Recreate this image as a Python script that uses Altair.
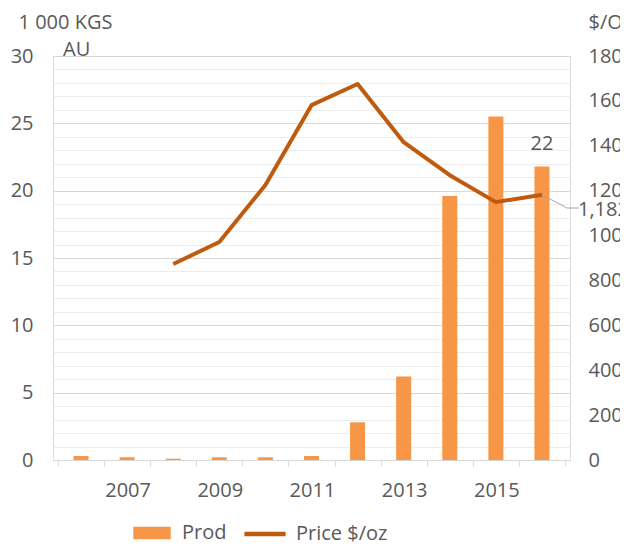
import altair as alt
import pandas as pd

years = [2006, 2007, 2008, 2009, 2010, 2011, 2012, 2013, 2014, 2015, 2016]
prod = [0.3, 0.2, 0.1, 0.2, 0.2, 0.3, 2.8, 6.2, 19.6, 25.5, 21.8]
price = [None, None, 873, 971, 1225, 1581, 1675, 1416, 1269, 1149, 1182]

left_ticks = list(range(0, 31))
right_ticks = list(range(0, 1801, 200))
boundaries = [y - 0.5 for y in years] + [years[-1] + 0.5]

df = pd.DataFrame({"year": years, "prod": prod, "price": price})
last = df[df["year"] == years[-1]]

BAR = "#F79646"
LINE = "#BF5B0E"
TXT = "#595959"
FONT = "Open Sans"
FS = 20

xscale = alt.Scale(domain=[years[0] - 0.5, years[-1] + 0.5], nice=False, zero=False)
xaxis = alt.Axis(
    values=boundaries,
    labelExpr="(datum.value < 2016 && (datum.value + 0.5) % 2 == 1) ? format(datum.value + 0.5, 'd') : ''",
    labelOffset=23.5, tickSize=6, tickColor="#d9d9d9", domainColor="#d9d9d9",
    grid=False, title=None, labelFontSize=FS, labelColor=TXT, labelFont=FONT,
    labelPadding=14, labelOverlap=False, labelFlush=False, labelBound=False,
)
X = alt.X("year:Q", scale=xscale, axis=xaxis)

lscale = alt.Scale(domain=[0, 30], nice=False)
laxis = alt.Axis(
    values=left_ticks,
    labelExpr="datum.value % 5 == 0 ? datum.label : ''",
    gridColor={"condition": {"test": "datum.value % 5 == 0", "value": "#d9d9d9"}, "value": "#ededed"},
    grid=True, ticks=False, domain=False, labelPadding=20,
    labelFontSize=FS, labelColor=TXT, labelFont=FONT,
    title="1 000 KGS", titleAngle=0, titleAlign="left", titleBaseline="middle",
    titleX=-35, titleY=-34, titleFontSize=FS, titleFontWeight="normal",
    titleColor=TXT, titleFont=FONT,
)
rscale = alt.Scale(domain=[0, 1800], nice=False)
raxis = alt.Axis(
    values=right_ticks, format="d", orient="right",
    grid=False, ticks=False, domain=False, labelPadding=18,
    labelFontSize=FS, labelColor=TXT, labelFont=FONT,
    title="$/OZ", titleAngle=0, titleAlign="left", titleBaseline="middle",
    titleX=18, titleY=-34, titleFontSize=FS, titleFontWeight="normal",
    titleColor=TXT, titleFont=FONT,
)

base = alt.Chart(df)

bars = base.mark_bar(size=15).transform_calculate(s1="'Prod'").encode(
    x=X,
    y=alt.Y("prod:Q", scale=lscale, axis=laxis),
    fill=alt.Fill(
        "s1:N",
        scale=alt.Scale(domain=["Prod"], range=[BAR]),
        legend=alt.Legend(
            title=None, orient="none", legendX=80, legendY=458, padding=0,
            symbolType="M-1,-0.34H1V0.34H-1Z", symbolSize=1400, symbolStrokeWidth=0,
            labelFontSize=FS, labelColor=TXT, labelFont=FONT, labelOffset=11,
        ),
    ),
)
bar_label = alt.Chart(last).mark_text(
    baseline="alphabetic", dy=-16, fontSize=FS, font=FONT, color=TXT
).encode(x=X, y=alt.Y("prod:Q", scale=lscale, axis=laxis), text=alt.Text("prod:Q", format=".0f"))

au = alt.Chart(pd.DataFrame({"t": ["AU"]})).mark_text(
    align="left", baseline="middle", fontSize=FS, font=FONT, color=TXT
).encode(x=alt.value(10), y=alt.value(-6), text="t:N")

left = alt.layer(bars, bar_label, au)

line = base.mark_line(strokeWidth=4, strokeJoin="round").transform_calculate(s2="'Price $/oz'").encode(
    x=X,
    y=alt.Y("price:Q", scale=rscale, axis=raxis),
    stroke=alt.Stroke(
        "s2:N",
        scale=alt.Scale(domain=["Price $/oz"], range=[LINE]),
        legend=alt.Legend(
            title=None, orient="none", legendX=189, legendY=455, padding=0,
            symbolType="stroke", symbolSize=1700, symbolStrokeWidth=4.5,
            labelFontSize=FS, labelColor=TXT, labelFont=FONT, labelOffset=8,
        ),
    ),
)
leader1 = alt.Chart(last).mark_rule(color="#a6a6a6", strokeWidth=1).encode(
    x=X, y=alt.Y("price:Q", scale=rscale, axis=raxis),
    x2=alt.value(514), y2=alt.value(152),
)
leader2 = alt.Chart(pd.DataFrame({"a": [1]})).mark_rule(color="#a6a6a6", strokeWidth=1).encode(
    x=alt.value(514), x2=alt.value(526), y=alt.value(152)
)
price_label = alt.Chart(last).mark_text(
    align="left", baseline="alphabetic", dx=36, dy=21, fontSize=FS, font=FONT, color=TXT
).encode(x=X, y=alt.Y("price:Q", scale=rscale, axis=raxis), text=alt.Text("price:Q", format=",.0f"))

right = alt.layer(line, leader1, leader2, price_label)

chart = alt.layer(left, right).resolve_scale(y="independent", fill="independent", stroke="independent").properties(
    width=517, height=404,
    autosize=alt.AutoSizeParams(type="none"),
    padding={"left": 45, "top": 48, "right": 50, "bottom": 82},
).configure_view(stroke=None).configure(background="white")

chart.save("out.html", embed_options={"renderer": "svg", "actions": False})
